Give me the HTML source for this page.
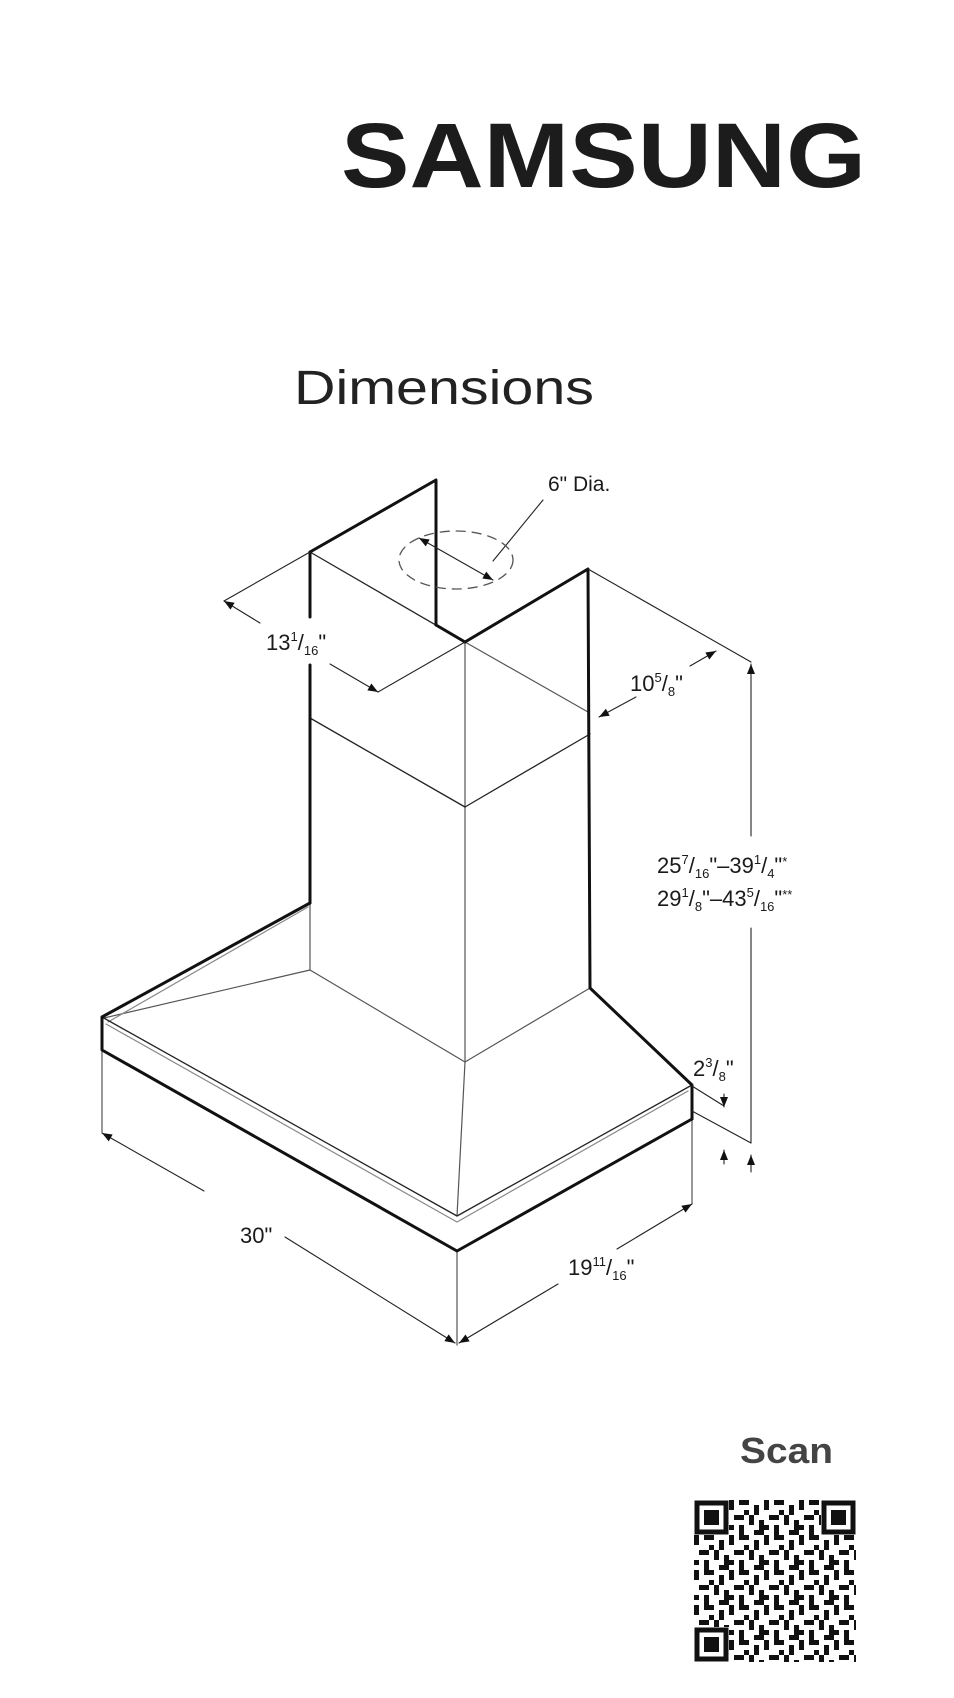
<!DOCTYPE html>
<html><head><meta charset="utf-8"><style>
html,body{margin:0;padding:0;background:#fff;}
svg{display:block;}
text{font-family:"Liberation Sans",sans-serif;fill:#1a1a1a;}
.d{font-size:22px;}
.s{font-size:13px;}
</style></head><body>
<svg width="954" height="1698" viewBox="0 0 954 1698" xmlns="http://www.w3.org/2000/svg">
<defs>
<marker id="a" viewBox="0 0 10 10" refX="10" refY="5" markerWidth="14" markerHeight="10" markerUnits="userSpaceOnUse" orient="auto-start-reverse"><path d="M0,1 L10,5 L0,9 z" fill="#111"/></marker>
</defs>
<text x="341" y="187" font-size="92" font-weight="bold" textLength="525" lengthAdjust="spacingAndGlyphs" style="fill:#1c1c1c">SAMSUNG</text>
<text x="294" y="404" font-size="48" style="fill:#222;font-weight:300" textLength="300" lengthAdjust="spacingAndGlyphs">Dimensions</text>

<g fill="none" stroke-linecap="round" stroke-linejoin="round">
<g stroke="#555" stroke-width="1.2">
<line x1="465" y1="642" x2="465" y2="1062"/>
<line x1="465" y1="1062" x2="457" y2="1216"/>
<line x1="310" y1="970" x2="465" y2="1062"/>
<line x1="465" y1="1062" x2="590" y2="988"/>
<line x1="104" y1="1018" x2="310" y2="970"/>
<line x1="310" y1="903" x2="310" y2="970"/>
<line x1="465" y1="642" x2="588" y2="712"/>
<line x1="102" y1="1050" x2="102" y2="1132"/>
<line x1="457" y1="1251" x2="457" y2="1345"/>
<line x1="692" y1="1119" x2="692" y2="1204"/>
</g>
<g stroke="#888" stroke-width="1.2">
<polyline points="106,1024 457,1222 688,1091"/>
<line x1="108" y1="1022" x2="308" y2="907"/>
</g>
<g stroke="#222" stroke-width="1.3">
<polyline points="102,1017 457,1216 692,1085"/>
<line x1="310" y1="552" x2="465" y2="642"/>
<line x1="310" y1="718" x2="465" y2="807"/>
<line x1="465" y1="807" x2="590" y2="734"/>
</g>
<g stroke="#111" stroke-width="3">
<polyline points="310,552 436,480 436,625"/>
<line x1="310" y1="552" x2="310" y2="617"/>
<line x1="310" y1="665" x2="310" y2="903"/>
<polyline points="465,642 588,569 590,988 692,1085 692,1119"/>
<polyline points="310,903 102,1017 102,1050 457,1251 692,1119"/>
<line x1="436" y1="625" x2="465" y2="642"/>
</g>

<g stroke="#222" stroke-width="1.1">
<line x1="224" y1="601" x2="310" y2="552"/>
<line x1="224" y1="601" x2="260" y2="623" marker-start="url(#a)"/>
<line x1="330" y1="664" x2="378" y2="692" marker-end="url(#a)"/>
<line x1="378" y1="692" x2="465" y2="642"/>
<line x1="588" y1="569" x2="751" y2="662"/>
<line x1="599" y1="717" x2="636" y2="697" marker-start="url(#a)"/>
<line x1="690" y1="666" x2="716" y2="651" marker-end="url(#a)"/>
<line x1="751" y1="836" x2="751" y2="664" marker-end="url(#a)"/>
<line x1="751" y1="928" x2="751" y2="1143"/>
<line x1="751" y1="1172" x2="751" y2="1155" marker-end="url(#a)"/>
<line x1="692" y1="1086" x2="724" y2="1106"/>
<line x1="692" y1="1111" x2="751" y2="1143"/>
<line x1="724" y1="1094" x2="724" y2="1107" marker-end="url(#a)"/>
<line x1="724" y1="1164" x2="724" y2="1150" marker-end="url(#a)"/>
<line x1="102" y1="1133" x2="204" y2="1191" marker-start="url(#a)"/>
<line x1="285" y1="1237" x2="455" y2="1343" marker-end="url(#a)"/>
<line x1="459" y1="1343" x2="558" y2="1284" marker-start="url(#a)"/>
<line x1="617" y1="1249" x2="692" y2="1204" marker-end="url(#a)"/>
<line x1="493" y1="561" x2="543" y2="500"/>
<line x1="419" y1="538" x2="493" y2="580" marker-start="url(#a)" marker-end="url(#a)"/>
</g>
<ellipse cx="456" cy="560" rx="57" ry="29" stroke="#555" stroke-width="1.3" stroke-dasharray="9,7"/>
</g>

<text x="548" y="491" font-size="21">6" Dia.</text>
<text x="266" y="650" class="d">13<tspan class="s" dy="-9">1</tspan><tspan dy="9">/</tspan><tspan class="s" dy="5">16</tspan><tspan dy="-5">"</tspan></text>
<text x="630" y="691" class="d">10<tspan class="s" dy="-9">5</tspan><tspan dy="9">/</tspan><tspan class="s" dy="5">8</tspan><tspan dy="-5">"</tspan></text>
<text x="657" y="873" class="d">25<tspan class="s" dy="-9">7</tspan><tspan dy="9">/</tspan><tspan class="s" dy="5">16</tspan><tspan dy="-5">"–39</tspan><tspan class="s" dy="-9">1</tspan><tspan dy="9">/</tspan><tspan class="s" dy="5">4</tspan><tspan dy="-5">"</tspan><tspan class="s" dy="-7">*</tspan></text>
<text x="657" y="906" class="d">29<tspan class="s" dy="-9">1</tspan><tspan dy="9">/</tspan><tspan class="s" dy="5">8</tspan><tspan dy="-5">"–43</tspan><tspan class="s" dy="-9">5</tspan><tspan dy="9">/</tspan><tspan class="s" dy="5">16</tspan><tspan dy="-5">"</tspan><tspan class="s" dy="-7">**</tspan></text>
<text x="693" y="1076" class="d">2<tspan class="s" dy="-9">3</tspan><tspan dy="9">/</tspan><tspan class="s" dy="5">8</tspan><tspan dy="-5">"</tspan></text>
<text x="240" y="1243" class="d">30"</text>
<text x="568" y="1275" class="d">19<tspan class="s" dy="-9">11</tspan><tspan dy="9">/</tspan><tspan class="s" dy="5">16</tspan><tspan dy="-5">"</tspan></text>

<text x="740" y="1463" font-size="36" font-weight="bold" style="fill:#444" textLength="93" lengthAdjust="spacingAndGlyphs">Scan</text>

<defs>
<pattern id="qr" x="694" y="1500" width="35" height="35" patternUnits="userSpaceOnUse">
<rect x="0" y="0" width="5" height="10" fill="#111"/><rect x="10" y="0" width="10" height="5" fill="#111"/><rect x="25" y="5" width="5" height="10" fill="#111"/>
<rect x="5" y="15" width="10" height="5" fill="#111"/><rect x="20" y="15" width="5" height="10" fill="#111"/><rect x="0" y="25" width="5" height="5" fill="#111"/>
<rect x="10" y="25" width="5" height="10" fill="#111"/><rect x="30" y="20" width="5" height="10" fill="#111"/><rect x="15" y="10" width="5" height="5" fill="#111"/>
<rect x="25" y="30" width="10" height="5" fill="#111"/>
</pattern>
</defs>
<rect x="694" y="1500" width="162" height="162" fill="url(#qr)"/>
<g>
<rect x="694" y="1500" width="35" height="35" fill="#fff"/><rect x="697" y="1503" width="29" height="29" fill="none" stroke="#111" stroke-width="5"/><rect x="704" y="1510" width="15" height="15" fill="#111"/>
<rect x="821" y="1500" width="35" height="35" fill="#fff"/><rect x="824" y="1503" width="29" height="29" fill="none" stroke="#111" stroke-width="5"/><rect x="831" y="1510" width="15" height="15" fill="#111"/>
<rect x="694" y="1627" width="35" height="35" fill="#fff"/><rect x="697" y="1630" width="29" height="29" fill="none" stroke="#111" stroke-width="5"/><rect x="704" y="1637" width="15" height="15" fill="#111"/>
</g>
</svg>
</body></html>
